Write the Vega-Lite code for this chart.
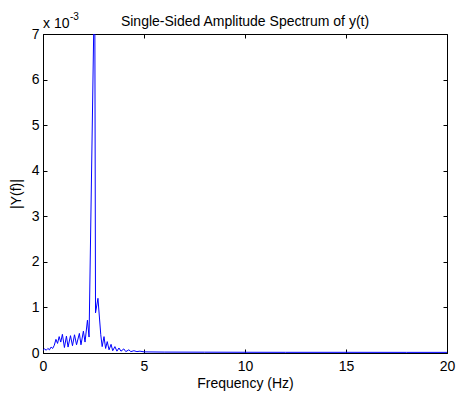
{
  "$schema": "https://vega.github.io/schema/vega-lite/v6.json",
  "autosize": {"type": "none"},
  "padding": {"left": 43, "top": 34, "right": 10, "bottom": 41},
  "width": 404,
  "height": 319,
  "background": "white",
  "config": {
    "font": "Liberation Sans",
    "view": {"stroke": "black", "strokeWidth": 1},
    "axis": {
      "grid": false,
      "labelFlush": false,
      "domainColor": "black",
      "domainWidth": 1,
      "tickColor": "black",
      "tickWidth": 1,
      "tickSize": -4,
      "labelColor": "black",
      "labelFont": "Liberation Sans",
      "labelFontSize": 14,
      "titleFont": "Liberation Sans",
      "titleFontSize": 14,
      "titleFontWeight": "normal",
      "titleColor": "black"
    }
  },
  "title": {
    "text": "Single-Sided Amplitude Spectrum of y(t)",
    "font": "Liberation Sans",
    "fontSize": 14,
    "fontWeight": "normal",
    "color": "black",
    "anchor": "middle",
    "frame": "group",
    "offset": -17
  },
  "resolve": {"axis": {"x": "independent", "y": "independent"}},
  "layer": [
    {
      "data": {
        "values": [
          {"f": 0.00, "a": 0.00006},
          {"f": 0.08, "a": 0.00009},
          {"f": 0.16, "a": 0.00006},
          {"f": 0.24, "a": 0.00010},
          {"f": 0.32, "a": 0.00007},
          {"f": 0.40, "a": 0.00013},
          {"f": 0.48, "a": 0.00010},
          {"f": 0.56, "a": 0.00017},
          {"f": 0.64, "a": 0.00030},
          {"f": 0.72, "a": 0.00021},
          {"f": 0.80, "a": 0.00036},
          {"f": 0.88, "a": 0.00024},
          {"f": 0.96, "a": 0.00041},
          {"f": 1.06, "a": 0.00012},
          {"f": 1.16, "a": 0.00037},
          {"f": 1.24, "a": 0.00013},
          {"f": 1.36, "a": 0.00038},
          {"f": 1.46, "a": 0.00016},
          {"f": 1.56, "a": 0.00040},
          {"f": 1.66, "a": 0.00018},
          {"f": 1.80, "a": 0.00043},
          {"f": 1.88, "a": 0.00018},
          {"f": 2.00, "a": 0.00048},
          {"f": 2.08, "a": 0.00024},
          {"f": 2.20, "a": 0.00072},
          {"f": 2.28, "a": 0.00035},
          {"f": 2.56, "a": 0.0085},
          {"f": 2.60, "a": 0.00088},
          {"f": 2.72, "a": 0.00120},
          {"f": 2.86, "a": 0.00040},
          {"f": 2.93, "a": 0.00014},
          {"f": 3.02, "a": 0.00036},
          {"f": 3.10, "a": 0.00010},
          {"f": 3.18, "a": 0.00025},
          {"f": 3.27, "a": 0.00007},
          {"f": 3.37, "a": 0.00019},
          {"f": 3.45, "a": 0.00005},
          {"f": 3.56, "a": 0.00014},
          {"f": 3.66, "a": 0.00004},
          {"f": 3.76, "a": 0.00011},
          {"f": 3.86, "a": 0.00004},
          {"f": 4.00, "a": 0.00009},
          {"f": 4.10, "a": 0.00003},
          {"f": 4.25, "a": 0.00007},
          {"f": 4.35, "a": 0.00003},
          {"f": 4.50, "a": 0.00005},
          {"f": 4.65, "a": 0.00003},
          {"f": 4.80, "a": 0.00004},
          {"f": 5.0, "a": 0.000025},
          {"f": 6.0, "a": 0.00002},
          {"f": 8.0, "a": 0.000018},
          {"f": 10.0, "a": 0.000016},
          {"f": 12.0, "a": 0.000015},
          {"f": 15.0, "a": 0.000015},
          {"f": 18.0, "a": 0.000014},
          {"f": 20.0, "a": 0.000014}
        ]
      },
      "mark": {"type": "line", "color": "#0000ff", "strokeWidth": 1, "clip": true},
      "encoding": {
        "x": {
          "field": "f", "type": "quantitative",
          "scale": {"domain": [0, 20], "nice": false, "zero": false},
          "axis": {"orient": "bottom", "values": [0, 5, 10, 15, 20], "title": "Frequency (Hz)", "labelPadding": 10, "titlePadding": 3}
        },
        "y": {
          "field": "a", "type": "quantitative",
          "scale": {"domain": [0, 0.007], "nice": false, "zero": false},
          "axis": {"orient": "left", "values": [0, 0.001, 0.002, 0.003, 0.004, 0.005, 0.006, 0.007], "labelExpr": "format(round(datum.value*1000), 'd')", "title": "|Y(f)|", "labelPadding": 8, "titlePadding": 8}
        }
      }
    },
    {
      "data": {"values": [{"f": 0, "a": 0.007, "label": "x 10"}]},
      "mark": {"type": "text", "align": "left", "baseline": "alphabetic", "dx": 0, "dy": -6, "fontSize": 14, "font": "Liberation Sans", "color": "black"},
      "encoding": {
        "x": {"field": "f", "type": "quantitative", "axis": {"orient": "top", "values": [0, 5, 10, 15, 20], "labels": false, "title": null, "domain": false}},
        "y": {"field": "a", "type": "quantitative", "axis": {"orient": "right", "values": [0, 0.001, 0.002, 0.003, 0.004, 0.005, 0.006, 0.007], "labels": false, "title": null, "domain": false}},
        "text": {"field": "label"}
      }
    },
    {
      "data": {"values": [{"f": 0, "a": 0.007, "label": "-3"}]},
      "mark": {"type": "text", "align": "left", "baseline": "alphabetic", "dx": 27, "dy": -14, "fontSize": 10, "font": "Liberation Sans", "color": "black"},
      "encoding": {
        "x": {"field": "f", "type": "quantitative", "axis": null},
        "y": {"field": "a", "type": "quantitative", "axis": null},
        "text": {"field": "label"}
      }
    }
  ]
}
